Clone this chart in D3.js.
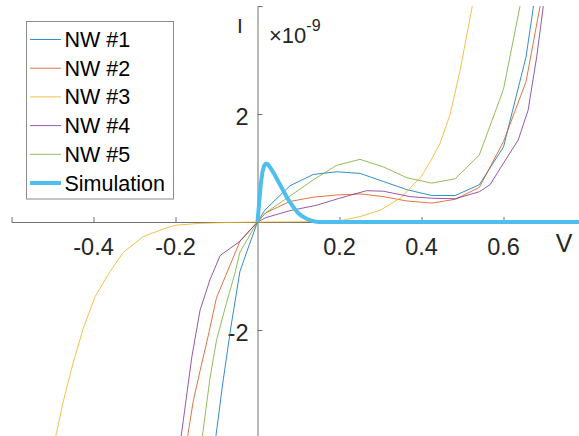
<!DOCTYPE html>
<html>
<head>
<meta charset="utf-8">
<script src="https://cdn.jsdelivr.net/npm/d3@7"></script>
<style>
  body { margin: 0; background: #fff; }
  text { font-family: "Liberation Sans", Arial, sans-serif; fill: #262626; }
</style>
</head>
<body>
<svg id="chart"></svg>
<script>
// I-V curves, current in units of 1e-9 A
var seriesNames = ["NW #1", "NW #2", "NW #3", "NW #4", "NW #5", "Simulation"];
var seriesColors = ["#0072BD", "#D95319", "#EDB120", "#7E2F8E", "#77AC30", "#4DBEEE"];

var nw1V = [-0.11, -0.101, -0.085, -0.065, -0.043, -0.02, 0, 0.018, 0.079, 0.136, 0.193, 0.25, 0.307, 0.364, 0.425, 0.482, 0.541, 0.6, 0.655, 0.71];
var nw1I = [-4.5, -3.94, -3.0, -1.95, -0.92, -0.42, 0, 0.22, 0.67, 0.88, 0.93, 0.9, 0.75, 0.6, 0.49, 0.49, 0.69, 1.39, 3.06, 5.9];

var nw2V = [-0.185, -0.17, -0.157, -0.14, -0.12, -0.1, -0.067, -0.043, 0, 0.02, 0.079, 0.136, 0.193, 0.25, 0.307, 0.364, 0.425, 0.482, 0.541, 0.6, 0.655, 0.71];
var nw2I = [-4.6, -3.95, -3.33, -2.75, -2.1, -1.4, -0.8, -0.36, 0, 0.17, 0.38, 0.46, 0.5, 0.52, 0.47, 0.39, 0.35, 0.42, 0.64, 1.49, 2.6, 4.85];

var nw3V = [-0.5, -0.49, -0.474, -0.449, -0.425, -0.396, -0.36, -0.327, -0.279, -0.219, -0.2, -0.14, -0.08, 0, 0.1, 0.2, 0.25, 0.3, 0.35, 0.4, 0.42, 0.445, 0.47, 0.494, 0.524, 0.55];
var nw3I = [-4.2, -3.9, -3.33, -2.59, -1.97, -1.38, -0.92, -0.56, -0.27, -0.1, -0.06, -0.025, -0.01, 0, 0.005, 0.02, 0.1, 0.22, 0.45, 0.85, 1.1, 1.45, 2.0, 2.8, 4.0, 5.1];

var nw4V = [-0.2, -0.185, -0.16, -0.14, -0.116, -0.091, -0.045, 0, 0.02, 0.079, 0.144, 0.2, 0.266, 0.307, 0.372, 0.425, 0.482, 0.541, 0.567, 0.6, 0.636, 0.66, 0.681, 0.697, 0.72];
var nw4I = [-4.6, -3.9, -2.49, -1.63, -1.07, -0.62, -0.37, 0, 0.08, 0.21, 0.31, 0.44, 0.58, 0.57, 0.47, 0.44, 0.43, 0.56, 0.69, 1.09, 1.52, 2.07, 3.06, 3.99, 5.4];

var nw5V = [-0.145, -0.134, -0.116, -0.1, -0.075, -0.055, -0.043, 0, 0.02, 0.079, 0.136, 0.193, 0.25, 0.307, 0.364, 0.425, 0.482, 0.541, 0.6, 0.655];
var nw5I = [-4.5, -3.94, -2.9, -2.19, -1.48, -0.95, -0.56, 0, 0.17, 0.48, 0.78, 1.05, 1.16, 1.02, 0.82, 0.72, 0.8, 1.24, 2.46, 4.56];

var simV = [0, 0.004, 0.008, 0.012, 0.016, 0.02, 0.025, 0.03, 0.04, 0.05, 0.06, 0.07, 0.08, 0.09, 0.1, 0.11, 0.12, 0.13, 0.14, 0.15, 0.16, 0.8];
var simI = [0, 0.35, 0.7, 0.92, 1.04, 1.08, 1.07, 1.02, 0.9, 0.76, 0.62, 0.48, 0.36, 0.25, 0.16, 0.1, 0.06, 0.03, 0.01, 0, 0, 0];

var xTicks = [-0.4, -0.2, 0.2, 0.4, 0.6];
var yTicks = [2, -2];

var width = 579, height = 436;

var svg = d3.select("#chart")
    .attr("width", width)
    .attr("height", height);

// axes cross at the origin
var x = d3.scaleLinear().domain([-0.6, 0.8]).range([11.5, 585.5]);
var y = d3.scaleLinear().domain([-4, 4]).range([438, 6]);

svg.append("defs").append("clipPath").attr("id", "plotClip")
  .append("rect")
    .attr("x", x(-0.6)).attr("y", y(4))
    .attr("width", width - x(-0.6)).attr("height", y(-4) - y(4));

var axisColor = "#707070";

// x axis through y = 0, ticks point up
var xAxis = svg.append("g")
    .attr("transform", "translate(0," + y(0) + ")")
    .call(d3.axisTop(x).tickValues(xTicks).tickSize(5).tickFormat(""));
xAxis.select(".domain").attr("stroke", axisColor);
xAxis.selectAll(".tick line").attr("stroke", axisColor);

// y axis through x = 0, ticks point right
var yAxis = svg.append("g")
    .attr("transform", "translate(" + x(0) + ",0)")
    .call(d3.axisRight(y).tickValues(yTicks).tickSize(5).tickFormat(""));
yAxis.select(".domain").attr("stroke", axisColor);
yAxis.selectAll(".tick line").attr("stroke", axisColor);

// plain hyphen for negatives, like the original
svg.append("g").selectAll("text")
    .data(xTicks)
  .enter().append("text")
    .attr("x", d => x(d))
    .attr("y", y(0) + 33)
    .attr("text-anchor", "middle")
    .style("font-size", "23.5px")
    .text(d => d3.format(".1f")(d).replace("\u2212", "-"));

svg.append("g").selectAll("text")
    .data(yTicks)
  .enter().append("text")
    .attr("x", x(0) - 9)
    .attr("y", d => y(d) + 11)
    .attr("text-anchor", "end")
    .style("font-size", "23.5px")
    .text(d => String(d));

// axis labels and exponent
svg.append("text")
    .attr("x", 240).attr("y", 32.5)
    .attr("text-anchor", "middle")
    .style("font-size", "21px")
    .text("I");

var expo = svg.append("text")
    .attr("x", 269).attr("y", 42.5)
    .style("font-size", "22px");
expo.append("tspan").text("\u00d710");
expo.append("tspan").attr("dy", -12).style("font-size", "16px").text("-9");

svg.append("text")
    .attr("x", 564).attr("y", 252)
    .attr("text-anchor", "middle")
    .style("font-size", "25px")
    .text("V");

// curves
var allV = [nw1V, nw2V, nw3V, nw4V, nw5V, simV];
var allI = [nw1I, nw2I, nw3I, nw4I, nw5I, simI];
var series = allV.map(function(vs, k) {
  return vs.map(function(v, i) { return {v: v, i: allI[k][i]}; });
});

var line = d3.line()
    .x(d => x(d.v))
    .y(d => y(d.i));

svg.append("g")
    .attr("clip-path", "url(#plotClip)")
  .selectAll("path")
    .data(series)
  .enter().append("path")
    .attr("d", line)
    .attr("fill", "none")
    .attr("stroke", (d, k) => seriesColors[k])
    .attr("stroke-width", (d, k) => k == 5 ? 4 : 1)
    .attr("stroke-opacity", (d, k) => k == 5 ? 1 : 0.8)
    .attr("stroke-linejoin", "round");

// legend box
var legend = svg.append("g");
legend.append("rect")
    .attr("x", 26.5).attr("y", 21.5)
    .attr("width", 147).attr("height", 177.5)
    .attr("fill", "#fff")
    .attr("stroke", "#8c8c8c")
    .attr("stroke-width", 1);

var row = legend.selectAll("g.item")
    .data(seriesNames)
  .enter().append("g")
    .attr("class", "item")
    .attr("transform", (d, k) => "translate(0," + (39.5 + k * 28.7) + ")");

row.append("line")
    .attr("x1", 30).attr("x2", 61)
    .attr("stroke", (d, k) => seriesColors[k])
    .attr("stroke-width", (d, k) => k == 5 ? 4 : 1)
    .attr("stroke-opacity", (d, k) => k == 5 ? 1 : 0.8);

row.append("text")
    .attr("x", 64.5).attr("y", 7.5)
    .style("font-size", "21.5px")
    .style("fill", "#000")
    .text(d => d);
</script>
</body>
</html>
